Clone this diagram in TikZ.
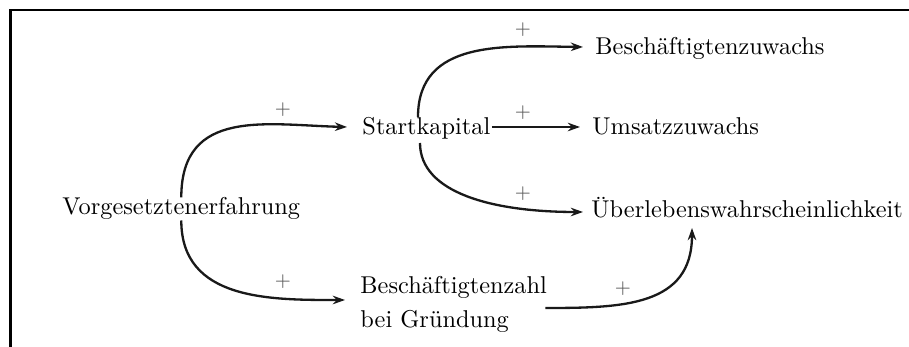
\documentclass[tikz,border=0pt]{standalone}
\usetikzlibrary{arrows.meta,calc}
\begin{document}
\begin{tikzpicture}[x=0.411pt,y=-0.411pt,
  lbl/.style={inner sep=0pt, font=\normalsize, text=black},
  pl/.style={inner sep=0pt, font=\footnotesize, text=black!65},
  con/.style={line width=0.95pt, draw=black!90, -{Stealth[length=5pt,width=3.5pt]}},
]
\useasboundingbox (0,0) rectangle (909,347);
\draw[line width=1.1pt, line join=miter] (10.5,347) -- (10.5,10) -- (909,10);

\node[lbl, anchor=base west] (ve) at (62,215) {Vorgesetztenerfahrung};
\node[lbl, anchor=base west] (sk) at (362,135) {Startkapital};
\node[lbl, anchor=base west] (bw) at (595,55) {Beschäftigtenzuwachs};
\node[lbl, anchor=base west] (um) at (592,135) {Umsatzzuwachs};
\node[lbl, anchor=base west] (ub) at (591,218) {Überlebenswahrscheinlichkeit};
\node[lbl, anchor=west, align=left] (bz) at (360,304) {Beschäftigtenzahl\\[2pt]bei Gründung};

\node[pl] (p1) at (283,110) {+};
\node[pl] (p2) at (283,282) {+};
\node[pl] (p3) at (523,30) {+};
\node[pl] (p4) at (523,113) {+};
\node[pl] (p5) at (523,194) {+};
\node[pl] (p6) at (623,289) {+};

\draw[con] (ve.north) .. controls +(0,-90) and +(-80,-2) .. ($(sk.base west)+(-15,-8)$);
\draw[con] (ve.south) .. controls +(0,80) and +(-75,0) .. ($(bz.west)+(-15,-4)$);
\draw[con] ($(sk.base west)+(56,-18)$) .. controls +(0,-78) and +(-78,-1) .. ($(bw.base west)+(-12,-8)$);
\draw[con] ($(sk.base east)+(1,-8)$) -- ($(um.base west)+(-12,-8)$);
\draw[con] ($(sk.base west)+(58,8)$) .. controls +(0,50) and +(-90,0) .. ($(ub.base west)+(-8,-6)$);
\draw[con] ($(bz.east)+(-2,4)$) .. controls +(78,0) and +(0,78) .. ($(ub.base west)+(101,10)$);
\end{tikzpicture}
\end{document}
